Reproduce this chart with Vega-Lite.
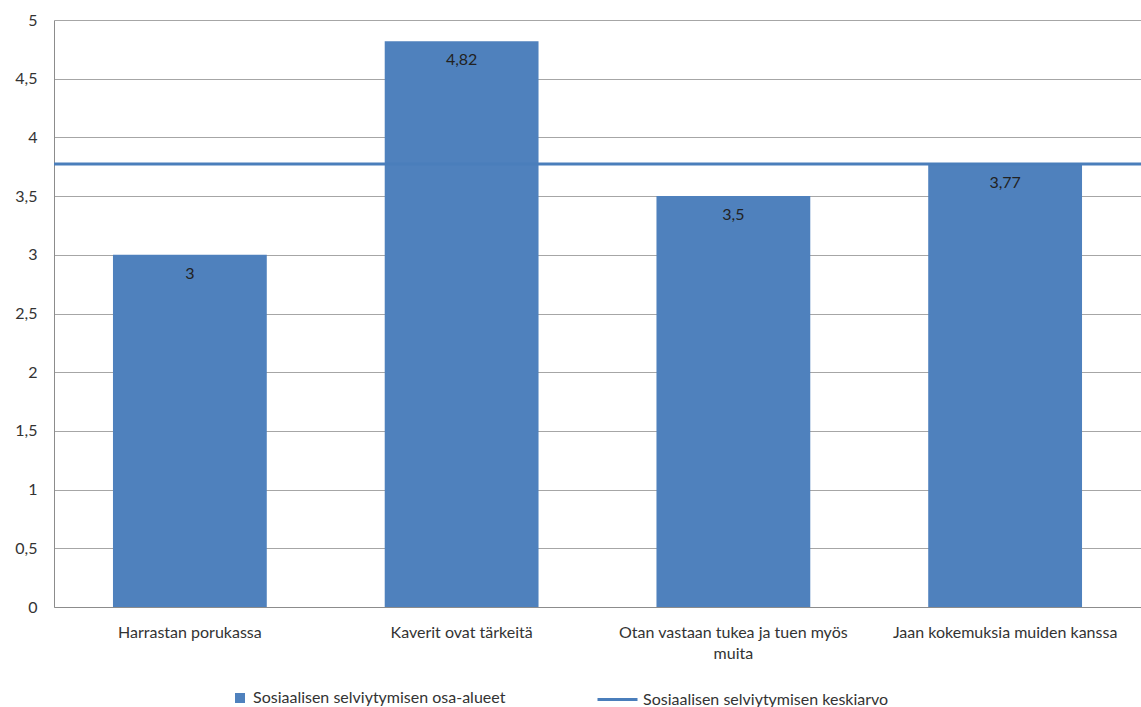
{
  "$schema": "https://vega.github.io/schema/vega-lite/v6.json",
  "width": 1087,
  "height": 587,
  "autosize": {"type": "none"},
  "padding": {"left": 54, "top": 20, "right": 0, "bottom": 100},
  "background": "white",
  "config": {
    "locale": {"number": {"decimal": ",", "thousands": " ", "grouping": [3], "currency": ["", " €"]}},
    "font": "Lato",
    "view": {"stroke": null},
    "axis": {"labelFont": "Lato", "labelFontSize": 16, "labelColor": "#333333", "gridColor": "#a6a6a6", "domainColor": "#8c8c8c", "ticks": false}
  },
  "datasets": {
    "bars": [
      {"kategoria": "Harrastan porukassa", "arvo": 3, "sarja": "Sosiaalisen selviytymisen osa-alueet"},
      {"kategoria": "Kaverit ovat tärkeitä", "arvo": 4.82, "sarja": "Sosiaalisen selviytymisen osa-alueet"},
      {"kategoria": "Otan vastaan tukea ja tuen myös muita", "arvo": 3.5, "sarja": "Sosiaalisen selviytymisen osa-alueet"},
      {"kategoria": "Jaan kokemuksia muiden kanssa", "arvo": 3.77, "sarja": "Sosiaalisen selviytymisen osa-alueet"}
    ],
    "mean": [
      {"keskiarvo": 3.7725, "viiva": "Sosiaalisen selviytymisen keskiarvo"}
    ]
  },
  "resolve": {"legend": {"fill": "independent", "stroke": "independent"}},
  "layer": [
    {
      "data": {"name": "bars"},
      "mark": {"type": "bar"},
      "encoding": {
        "x": {"field": "kategoria", "type": "nominal", "sort": null,
              "scale": {"paddingInner": 0.434, "paddingOuter": 0.217},
              "axis": {"title": null, "labelAngle": 0, "labelPadding": 17, "domain": true, "grid": false,
                       "labelLimit": 300, "labelLineHeight": 21,
                       "labelExpr": "datum.label == 'Otan vastaan tukea ja tuen myös muita' ? ['Otan vastaan tukea ja tuen myös', 'muita'] : datum.label"}},
        "y": {"field": "arvo", "type": "quantitative",
              "scale": {"domain": [0, 5], "nice": false},
              "axis": {"title": null, "values": [0, 0.5, 1, 1.5, 2, 2.5, 3, 3.5, 4, 4.5, 5], "format": "~g", "labelPadding": 17, "domain": true, "grid": true}},
        "fill": {"field": "sarja", "type": "nominal",
                 "scale": {"range": ["#4f81bd"]},
                 "legend": {"title": null, "orient": "none", "legendX": 178, "legendY": 670, "symbolType": "square", "symbolSize": 100, "symbolStrokeWidth": 0, "labelFontSize": 16, "labelColor": "#333333", "labelFont": "Lato", "labelLimit": 400, "labelOffset": 5}}
      }
    },
    {
      "data": {"name": "bars"},
      "mark": {"type": "text", "baseline": "top", "dy": 11, "fontSize": 16, "color": "#222222", "font": "Lato"},
      "encoding": {
        "x": {"field": "kategoria", "type": "nominal", "sort": null,
              "axis": {"title": null, "labelAngle": 0, "labelPadding": 17, "domain": true, "grid": false,
                       "labelLimit": 300, "labelLineHeight": 21,
                       "labelExpr": "datum.label == 'Otan vastaan tukea ja tuen myös muita' ? ['Otan vastaan tukea ja tuen myös', 'muita'] : datum.label"}},
        "y": {"field": "arvo", "type": "quantitative",
              "axis": {"title": null, "values": [0, 0.5, 1, 1.5, 2, 2.5, 3, 3.5, 4, 4.5, 5], "format": "~g", "labelPadding": 17, "domain": true, "grid": true}},
        "text": {"field": "arvo", "type": "quantitative", "format": "~g"}
      }
    },
    {
      "data": {"name": "mean"},
      "mark": {"type": "rule", "strokeWidth": 3},
      "encoding": {
        "y": {"field": "keskiarvo", "type": "quantitative",
              "axis": {"title": null, "values": [0, 0.5, 1, 1.5, 2, 2.5, 3, 3.5, 4, 4.5, 5], "format": "~g", "labelPadding": 17, "domain": true, "grid": true}},
        "stroke": {"field": "viiva", "type": "nominal",
                   "scale": {"range": ["#4a7ebb"]},
                   "legend": {"title": null, "orient": "none", "legendX": 542, "legendY": 658, "symbolType": "stroke", "symbolSize": 1600, "symbolStrokeWidth": 3, "labelFontSize": 16, "labelColor": "#333333", "labelFont": "Lato", "labelLimit": 400, "labelOffset": 4}}
      }
    }
  ]
}
